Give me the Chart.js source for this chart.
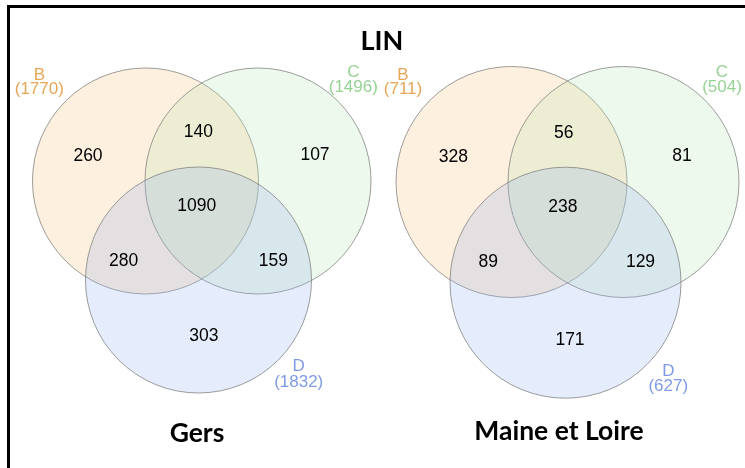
<!DOCTYPE html>
<html><head><meta charset="utf-8">
<script src="https://cdn.jsdelivr.net/npm/chart.js@4.4.1/dist/chart.umd.min.js"></script>
<style>
html,body{margin:0;padding:0;background:#fff;}
#wrap{position:relative;width:745px;height:468px;overflow:hidden;}
#frame{position:absolute;left:7px;top:5px;right:-10px;bottom:-10px;border-top:3px solid #000;border-left:3px solid #000;}
#box{position:absolute;left:0;top:0;width:745px;height:468px;}
</style></head><body>
<div id="wrap"><div id="frame"></div><div id="box"><canvas id="c"></canvas></div></div>
<script>
// ---- data ----
const mainTitle = 'LIN';
const panelTitles = ['Gers', 'Maine et Loire'];
const setNames = ['B', 'C', 'D'];
const setTotalsGers = [1770, 1496, 1832];
const setTotalsMaine = [711, 504, 627];
const regionNames = ['B only', 'B∩C', 'C only', 'B∩C∩D', 'B∩D', 'C∩D', 'D only'];
const regionCountsGers = [260, 140, 107, 1090, 280, 159, 303];
const regionCountsMaine = [328, 56, 81, 238, 89, 129, 171];

// ---- layout (data units of the x/y scales) ----
const panels = [
  { totals: setTotalsGers, counts: regionCountsGers, title: panelTitles[0],
    circles: [[145.5,181],[258,181],[198.5,280]], r: 113,
    regionPos: [[88,161],[198.3,136.7],[315,160],[196.7,211],[123.7,265.7],[273.3,265.5],[203.8,341]],
    setPos: [[39.3,80,94],[353.3,77.3,92],[298.7,370.7,387]],
    titlePos: [197,442] },
  { totals: setTotalsMaine, counts: regionCountsMaine, title: panelTitles[1],
    circles: [[511.5,182],[623.5,182],[565.5,282.7]], r: 115.5,
    regionPos: [[453.3,162],[563.7,137.5],[682,161],[562.8,212],[488.3,267],[640.5,266.7],[570,345]],
    setPos: [[403,80,94],[722,77.3,92],[668.3,375.7,391]],
    titlePos: [559,440] }
];
const mainTitlePos = [382, 50];

const setFill = ['rgba(251,195,123,0.25)','rgba(183,231,179,0.25)','rgba(151,179,239,0.25)'];
const setText = ['#E6A655','#97D295','#7F9BE6'];

const datasets = panels.map((p) => ({
  label: p.title,
  data: p.circles.map(c => ({x: c[0], y: c[1], r: 0})),
  backgroundColor: setFill,
  borderColor: 'rgba(120,120,120,0.72)',
  borderWidth: 1
}));

// converts each circle's radius (in x-scale data units) to pixels through the x scale
const radiusPlugin = {
  id: 'vennRadius',
  beforeUpdate(chart) {
    const s = chart.scales && chart.scales.x;
    chart.data.datasets.forEach((ds, di) => {
      let px = 0;
      if (s) {
        const v = Math.abs(s.getPixelForValue(panels[di].r) - s.getPixelForValue(0));
        if (isFinite(v)) px = v;
      }
      ds.data.forEach(pt => { pt.r = px; });
    });
  }
};

const textPlugin = {
  id: 'vennText',
  afterDatasetsDraw(chart) {
    const {ctx, scales: {x, y}} = chart;
    const put = (t, px, py, font, color) => {
      ctx.font = font; ctx.fillStyle = color;
      ctx.textAlign = 'center'; ctx.textBaseline = 'alphabetic';
      ctx.fillText(t, x.getPixelForValue(px), y.getPixelForValue(py));
    };
    ctx.save();
    put(mainTitle, mainTitlePos[0], mainTitlePos[1], 'bold 27px Lato', '#000');
    panels.forEach(p => {
      p.counts.forEach((v, i) => put(String(v), p.regionPos[i][0], p.regionPos[i][1], '17.5px "Liberation Sans"', '#000'));
      setNames.forEach((n, i) => {
        const sp = p.setPos[i];
        put(n, sp[0], sp[1], '17px "Liberation Sans"', setText[i]);
        put('(' + p.totals[i] + ')', sp[0], sp[2], '17px "Liberation Sans"', setText[i]);
      });
      put(p.title, p.titlePos[0], p.titlePos[1], 'bold 26.5px Lato', '#000');
    });
    ctx.restore();
  }
};

const chart = new Chart(document.getElementById('c'), {
  type: 'bubble',
  data: { datasets },
  options: {
    responsive: true, maintainAspectRatio: false, animation: false, events: [],
    layout: { padding: 0, autoPadding: false },
    plugins: { legend: { display: false }, tooltip: { enabled: false }, title: { display: false } },
    scales: {
      x: { type: 'linear', min: 0, max: 745, display: false },
      y: { type: 'linear', min: 0, max: 468, reverse: true, display: false }
    }
  },
  plugins: [radiusPlugin, textPlugin]
});
chart.update();
</script>
</body></html>
